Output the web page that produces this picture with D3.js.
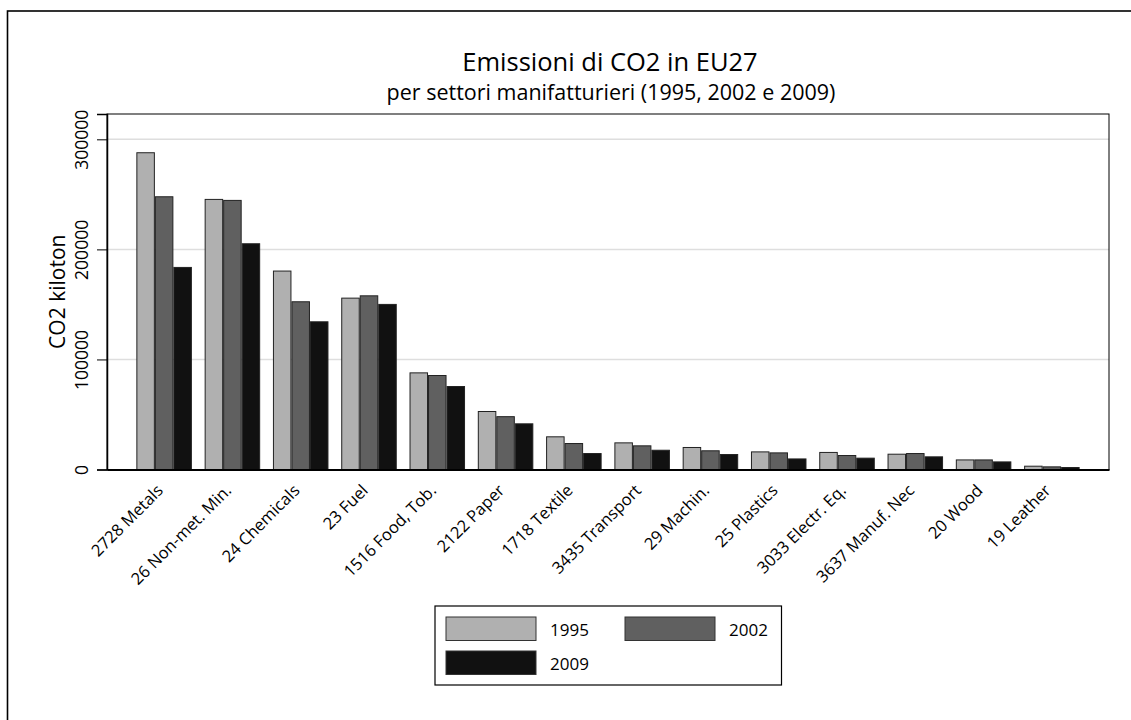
<!DOCTYPE html>
<html>
<head>
<meta charset="utf-8">
<script src="https://cdn.jsdelivr.net/npm/d3@7/dist/d3.min.js"></script>
<style>
  html, body { margin: 0; padding: 0; background: #fff; }
  svg { display: block; }
  text { font-family: "Open Sans", Lato, sans-serif; fill: #000; }
</style>
</head>
<body>
<svg id="chart" width="1131" height="720"></svg>
<script>
const categories = ["2728 Metals", "26 Non-met. Min.", "24 Chemicals", "23 Fuel", "1516 Food, Tob.",
  "2122 Paper", "1718 Textile", "3435 Transport", "29 Machin.", "25 Plastics",
  "3033 Electr. Eq.", "3637 Manuf. Nec", "20 Wood", "19 Leather"];
const years = ["1995", "2002", "2009"];
const values1995 = [287800, 245400, 180300, 155700, 87800, 52700, 29700, 24200, 20000, 16000, 15500, 13900, 8700, 3000];
const values2002 = [247800, 244500, 152400, 157800, 85400, 48000, 23600, 21500, 17000, 15100, 12700, 14500, 8700, 2400];
const values2009 = [183600, 205100, 134200, 150000, 75400, 41500, 14500, 17500, 13600, 9600, 10300, 11500, 6900, 1800];
const yTicks = [0, 100000, 200000, 300000];
const yMax = 323000;
const titleText = "Emissioni di CO2 in EU27";
const subtitleText = "per settori manifatturieri (1995, 2002 e 2009)";
const yLabel = "CO2 kiloton";

const series = [values1995, values2002, values2009];
const colors = ["#b0b0b0", "#606060", "#111111"];
const FONT = "'Open Sans', Lato, sans-serif";

const svg = d3.select("#chart");
const pLeft = 107, pRight = 1109, pTop = 114, pBottom = 469.5;

// outer frame
svg.append("rect").attr("x", 7.5).attr("y", 11).attr("width", 1200).attr("height", 800)
  .attr("fill", "#fff").attr("stroke", "#000").attr("stroke-width", 1.6);

const x0 = d3.scaleBand().domain(categories).range([pLeft, pRight]).paddingInner(0.187).paddingOuter(0.43);
const x1 = d3.scaleBand().domain(years).range([0, x0.bandwidth()]).padding(0);
const y = d3.scaleLinear().domain([0, yMax]).range([pBottom, pTop]);

// gridlines
svg.append("g").selectAll("line").data(yTicks.filter(d => d > 0)).join("line")
  .attr("x1", pLeft).attr("x2", pRight).attr("y1", d => y(d)).attr("y2", d => y(d))
  .attr("stroke", "#dedede").attr("stroke-width", 1.5);

// plot border
svg.append("rect").attr("x", pLeft).attr("y", pTop).attr("width", pRight - pLeft).attr("height", pBottom - pTop)
  .attr("fill", "none").attr("stroke", "#000").attr("stroke-width", 1);

// bars
const groups = svg.append("g").selectAll("g").data(categories).join("g")
  .attr("transform", d => `translate(${x0(d)},0)`);
groups.selectAll("rect").data((c, i) => years.map((yr, k) => ({ yr, k, v: series[k][i] }))).join("rect")
  .attr("x", d => x1(d.yr) + 0.5).attr("width", x1.bandwidth() - 1)
  .attr("y", d => y(d.v)).attr("height", d => y(0) - y(d.v))
  .attr("fill", d => colors[d.k]).attr("stroke", "#222").attr("stroke-width", 1);

// y axis
const yAxis = d3.axisLeft(y).tickValues(yTicks).tickSize(10).tickFormat(d3.format("d"));
const ya = svg.append("g").attr("transform", `translate(${pLeft},0)`).call(yAxis);
ya.select(".domain").attr("stroke", "#000").attr("stroke-width", 1.5);
ya.selectAll(".tick line").attr("stroke", "#000").attr("stroke-width", 1);
ya.selectAll(".tick text").attr("font-family", FONT).attr("font-size", 17.5)
  .attr("text-anchor", "middle").attr("x", 0).attr("dy", 0)
  .attr("transform", "translate(-19,0) rotate(-90)").attr("fill", "#000");

// x axis
const xa = svg.append("g").attr("transform", `translate(0,${pBottom})`).call(d3.axisBottom(x0).tickSize(0));
xa.select(".domain").attr("stroke", "#000").attr("stroke-width", 2);
xa.selectAll(".tick text").attr("font-family", FONT).attr("font-size", 16.5)
  .attr("text-anchor", "end").attr("y", 0).attr("dy", 0)
  .attr("transform", "translate(0,22) rotate(-45)").attr("fill", "#000");

// y label
svg.append("text").attr("transform", `translate(65,${(pTop + pBottom) / 2}) rotate(-90)`)
  .attr("text-anchor", "middle").attr("font-size", 21).text(yLabel);

// titles
svg.append("text").attr("x", 610).attr("y", 71).attr("text-anchor", "middle")
  .attr("font-size", 25.5).text(titleText);
svg.append("text").attr("x", 611).attr("y", 100).attr("text-anchor", "middle")
  .attr("font-size", 21.5).text(subtitleText);

// legend
const lg = svg.append("g");
lg.append("rect").attr("x", 435).attr("y", 606).attr("width", 346.5).attr("height", 79)
  .attr("fill", "#fff").attr("stroke", "#000").attr("stroke-width", 1.2);
const legPos = [[446, 617], [625, 617], [446, 651]];
years.forEach((yr, k) => {
  lg.append("rect").attr("x", legPos[k][0]).attr("y", legPos[k][1]).attr("width", 90).attr("height", 23.5)
    .attr("fill", colors[k]).attr("stroke", "#333").attr("stroke-width", 1);
  lg.append("text").attr("x", legPos[k][0] + 104).attr("y", legPos[k][1] + 19)
    .attr("font-size", 17).text(yr);
});
</script>
</body>
</html>
